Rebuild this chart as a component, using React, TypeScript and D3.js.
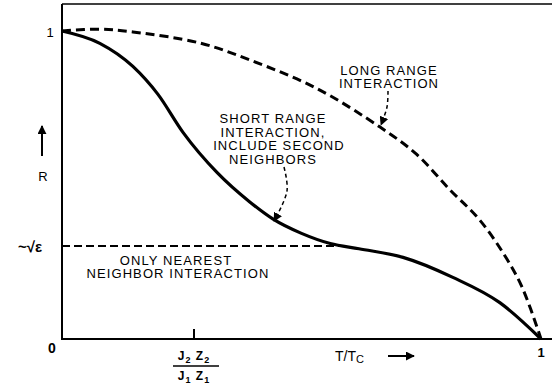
import React from "react";
import * as d3 from "d3";

const shortX = [0, 0.079, 0.148, 0.2, 0.253, 0.324, 0.392, 0.44, 0.5, 0.56, 0.62, 0.712, 0.816, 0.914, 1];
const shortY = [1, 0.96, 0.885, 0.795, 0.67, 0.54, 0.445, 0.39, 0.343, 0.31, 0.293, 0.265, 0.2, 0.118, 0];
const longX = [0, 0.079, 0.148, 0.288, 0.392, 0.53, 0.664, 0.74, 0.81, 0.87, 0.921, 0.96, 1];
const longY = [1, 1.006, 0.997, 0.961, 0.906, 0.815, 0.688, 0.6, 0.484, 0.39, 0.279, 0.17, 0];
const nearestX = [0, 0.6];
const nearestY = [0.302, 0.302];
const tickX = 0.2756;

const W = 552, H = 387;
const x = d3.scaleLinear().domain([0, 1]).range([62, 541]);
const y = d3.scaleLinear().domain([0, 1]).range([339, 31]);

export default function App() {
  const lineM = d3.line<[number, number]>().x(d => x(d[0])).y(d => y(d[1])).curve(d3.curveMonotoneX);
  const lineC = d3.line<[number, number]>().x(d => x(d[0])).y(d => y(d[1])).curve(d3.curveCatmullRom);
  const sPts = shortX.map((v, i) => [v, shortY[i]] as [number, number]);
  const lPts = longX.map((v, i) => [v, longY[i]] as [number, number]);
  const nPts = nearestX.map((v, i) => [v, nearestY[i]] as [number, number]);
  const arrowLine = d3.line().curve(d3.curveCatmullRom);
  const font = "'Liberation Sans', Arial, sans-serif";
  const lab = { fontFamily: font, fontSize: 13, letterSpacing: 1.1, textAnchor: "middle" as const };
  return (
    <svg width={W} height={H} style={{ position: "absolute", left: 0, top: 0, background: "#fff" }}>
      <defs>
        <marker id="ah" viewBox="0 0 10 10" refX="9" refY="5" markerWidth="9" markerHeight="9" orient="auto" markerUnits="userSpaceOnUse">
          <path d="M0,0 L10,5 L0,10 z" fill="#000" />
        </marker>
      </defs>
      {/* frame */}
      <line x1={62} y1={4} x2={62} y2={340} stroke="#000" strokeWidth={2} />
      <line x1={62} y1={4} x2={552} y2={4} stroke="#000" strokeWidth={1.5} />
      <line x1={61} y1={339} x2={552} y2={339} stroke="#000" strokeWidth={2} />
      <line x1={x(tickX)} y1={329} x2={x(tickX)} y2={339} stroke="#000" strokeWidth={2} />
      {/* curves */}
      <path d={lineC(lPts) || ""} fill="none" stroke="#000" strokeWidth={3} strokeDasharray="9 5" />
      <path d={lineM(nPts) || ""} fill="none" stroke="#000" strokeWidth={2.2} strokeDasharray="8 4" />
      <path d={lineM(sPts) || ""} fill="none" stroke="#000" strokeWidth={3.2} />
      {/* annotation arrows */}
      <path d={arrowLine([[388, 91], [387, 107], [381, 125]]) || ""} fill="none" stroke="#000" strokeWidth={1.5} strokeDasharray="4 3" markerEnd="url(#ah)" />
      <path d={arrowLine([[284, 167], [287, 191], [274, 221]]) || ""} fill="none" stroke="#000" strokeWidth={1.5} strokeDasharray="4 3" markerEnd="url(#ah)" />
      {/* labels */}
      <text x={389} y={74.5} {...lab}>LONG RANGE</text>
      <text x={389} y={88} {...lab}>INTERACTION</text>
      <text x={273} y={123} {...lab}>SHORT RANGE</text>
      <text x={273} y={136.5} {...lab}>INTERACTION,</text>
      <text x={279} y={150} {...lab}>INCLUDE SECOND</text>
      <text x={273} y={163.5} {...lab}>NEIGHBORS</text>
      <text x={176} y={264.5} {...lab}>ONLY NEAREST</text>
      <text x={178} y={278} {...lab}>NEIGHBOR INTERACTION</text>
      {/* y axis labels */}
      <text x={50} y={37} fontFamily={font} fontSize={13} textAnchor="middle">1</text>
      <text x={52} y={353} fontFamily={font} fontSize={14} fontWeight="bold" textAnchor="middle">0</text>
      <line x1={42} y1={156} x2={42} y2={126} stroke="#000" strokeWidth={2} markerEnd="url(#ah)" />
      <text x={43} y={181} fontFamily={font} fontSize={13} textAnchor="middle">R</text>
      <text x={30} y={252} fontFamily={font} fontSize={15} fontWeight="bold" textAnchor="middle">~√ε</text>
      {/* x axis labels */}
      <text x={194} y={360} fontFamily={font} fontSize={12} fontWeight="bold" textAnchor="middle" letterSpacing={1}>J<tspan fontSize={9} dy={3}>2</tspan><tspan dy={-3}> Z</tspan><tspan fontSize={9} dy={3}>2</tspan></text>
      <line x1={173} y1={366} x2={219} y2={366} stroke="#000" strokeWidth={1.5} />
      <text x={194} y={380} fontFamily={font} fontSize={12} fontWeight="bold" textAnchor="middle" letterSpacing={1}>J<tspan fontSize={9} dy={3}>1</tspan><tspan dy={-3}> Z</tspan><tspan fontSize={9} dy={3}>1</tspan></text>
      <text x={335} y={361} fontFamily={font} fontSize={14}>T/T<tspan fontSize={11} dy={2}>C</tspan></text>
      <line x1={388} y1={356} x2={414} y2={356} stroke="#000" strokeWidth={2} markerEnd="url(#ah)" />
      <text x={541} y={357} fontFamily={font} fontSize={13} fontWeight="bold" textAnchor="middle">1</text>
    </svg>
  );
}
